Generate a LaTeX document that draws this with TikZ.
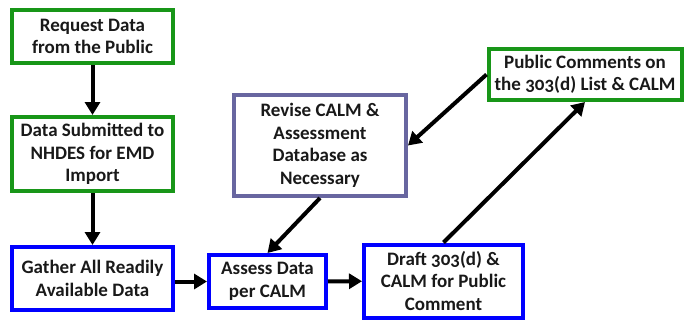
\documentclass[tikz,border=0pt]{standalone}
\usepackage{fontspec}
\setmainfont{Carlito}[Numbers=OldStyle]
\usepackage{tikz}
\usepackage{xcolor}
\usetikzlibrary{arrows.meta}
\usetikzlibrary{positioning}

\begin{document}
\begin{tikzpicture}[x=1pt, y=-1pt,
		stepbox/.style={draw, line width=4pt, fill=white, align=center, inner sep=1pt,
			font=\fontsize{19}{22.5}\selectfont\bfseries, text=TEXT_BLACK},
		greenbox/.style={stepbox, draw=GREEN},
		bluebox/.style={stepbox, draw=BLUE},
		greybox/.style={stepbox, draw=PURPLE_GRAY},
		flow/.style={draw=BLACK, line width=4pt, -{Triangle[length=13pt, width=15pt]}}]
				\definecolor{WHITE}{RGB}{255, 255, 255}
				\definecolor{BLACK}{RGB}{0, 0, 0}
				\definecolor{TEXT_BLACK}{RGB}{25, 25, 25}
				\definecolor{GREEN}{RGB}{24, 150, 24}
				\definecolor{BLUE}{RGB}{0, 0, 255}
				\definecolor{PURPLE_GRAY}{RGB}{104, 102, 160}
				\useasboundingbox[fill=WHITE] (0, 0) rectangle (686, 322);

				\node[greenbox, minimum width=161pt, minimum height=53pt] (request) at (92.5, 36.5)
					{Request Data\\from the Public};
				\node[greenbox, minimum width=161pt, minimum height=74pt] (submitted) at (92.5, 154)
					{Data Submitted to\\NHDES for EMD\\Import};
				\node[bluebox, minimum width=161pt, minimum height=63pt] (gather) at (92.5, 278.5)
					{Gather All Readily\\Available Data};
				\node[bluebox, minimum width=117pt, minimum height=53pt] (assess) at (267.5, 281.5)
					{Assess Data\\per CALM};
				\node[greybox, minimum width=172pt, minimum height=101pt] (revise) at (320, 145.5)
					{Revise CALM \&\\Assessment\\Database as\\Necessary};
				\node[bluebox, minimum width=159pt, minimum height=73pt] (draft) at (443.5, 281)
					{Draft 303(d) \&\\CALM for Public\\Comment};
				\node[greenbox, minimum width=193pt, minimum height=51pt] (comments) at (585, 74.5)
					{Public Comments on\\the 303(d) List \& CALM};

				\draw[flow] (request) -- (submitted);
				\draw[flow] (submitted) -- (gather);
				\draw[flow] (gather.east |- assess.west) -- (assess.west);
				\draw[flow] (assess) -- (draft);
				\draw[flow] (draft.north) -- (comments.south);
				\draw[flow] (comments.west) -- (revise.east);
				\draw[flow] (revise.south) -- (assess.north);
			\end{tikzpicture}
\end{document}
